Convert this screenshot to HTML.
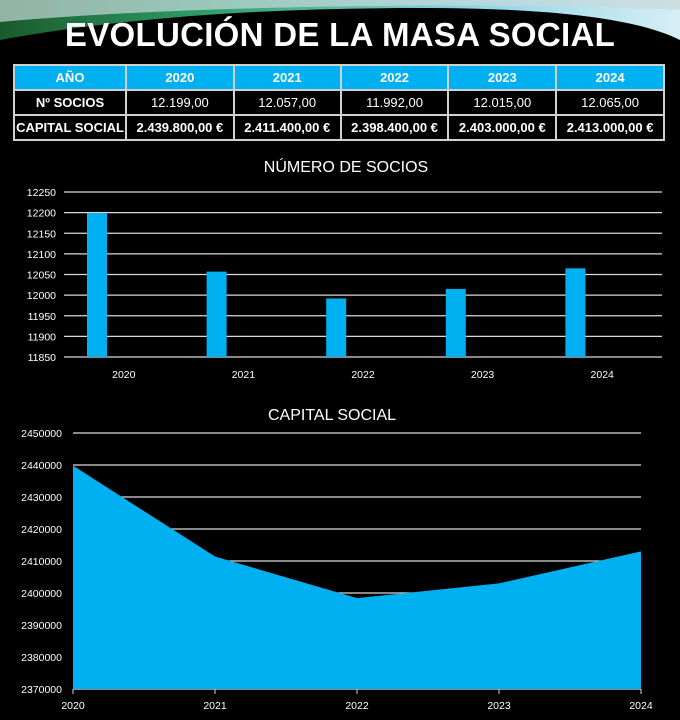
<!DOCTYPE html>
<html><head><meta charset="utf-8"><style>
body{margin:0;width:680px;height:720px;background:#000;overflow:hidden;font-family:"Liberation Sans",sans-serif;position:relative}
.title{position:absolute;left:0;width:680px;top:16px;text-align:center;color:#fff;font-weight:bold;font-size:33px;letter-spacing:0.3px}
table{position:absolute;left:13px;top:64px;border-collapse:collapse;width:652px;font-size:13px}
td{border:2px solid #d0d0d0;text-align:center;color:#fff;height:23px;padding:0}
tr.h td{background:#00b0f0;font-weight:bold}
.b td{font-weight:bold}
svg{position:absolute;left:0;top:0}
</style></head><body>
<svg width="680" height="720">
<defs>
<linearGradient id="sw" x1="0" x2="1" y1="0" y2="0"><stop offset="0" stop-color="#1a5a2a"/><stop offset="0.3" stop-color="#2e9e6a"/><stop offset="0.7" stop-color="#8fd6e6"/><stop offset="1" stop-color="#d8eef4"/></linearGradient>
</defs>
<path d="M0 0 H680 V40 C640 20 560 8 420 8 C260 8 120 18 0 40 Z" fill="url(#sw)"/>
<path d="M0 0 H680 V10 C500 2 200 4 0 22 Z" fill="#c8d8dc" opacity="0.7"/>
<g id="bars"></g>
<g id="area"></g>
</svg>
<div class="title">EVOLUCIÓN DE LA MASA SOCIAL</div>
<table>
<tr class="h"><td style="width:110px">AÑO</td><td>2020</td><td>2021</td><td>2022</td><td>2023</td><td>2024</td></tr>
<tr><td style="font-weight:bold">Nº SOCIOS</td><td>12.199,00</td><td>12.057,00</td><td>11.992,00</td><td>12.015,00</td><td>12.065,00</td></tr>
<tr class="b"><td>CAPITAL SOCIAL</td><td>2.439.800,00 €</td><td>2.411.400,00 €</td><td>2.398.400,00 €</td><td>2.403.000,00 €</td><td>2.413.000,00 €</td></tr>
</table>
<script>
const years=["2020","2021","2022","2023","2024"];
const socios=[12199,12057,11992,12015,12065];
const socioTicks=[11850,11900,11950,12000,12050,12100,12150,12200,12250];
const capital=[2439800,2411400,2398400,2403000,2413000];
const capTicks=[2370000,2380000,2390000,2400000,2410000,2420000,2430000,2440000,2450000];
const NS="http://www.w3.org/2000/svg";
function mk(p,t,a){const e=document.createElementNS(NS,t);for(const k in a)e.setAttribute(k,a[k]);p.appendChild(e);return e;}
// bar chart
const g=document.getElementById('bars');
const bx0=64,bx1=662,by0=357,by1=192;
const bmin=11850,bmax=12250;
const by=v=>by0-(v-bmin)/(bmax-bmin)*(by0-by1);
const cw=(bx1-bx0)/years.length;
let t=mk(g,'text',{x:346,y:172,fill:'#fff','font-size':16,'text-anchor':'middle'});t.textContent='NÚMERO DE SOCIOS';


socioTicks.forEach(v=>{
 const l=mk(g,'line',{x1:bx0,x2:bx1,y1:by(v),y2:by(v),stroke:'#d9d9d9','stroke-width':1.3});
 
 
 const tx=mk(g,'text',{x:56,y:by(v)+4,fill:'#fff','font-size':10.5,'text-anchor':'end'});tx.textContent=v;
 
 
});
socios.forEach((v,i)=>{
 const x=bx0+i*cw+23;
 const r=mk(g,'rect',{x:x,y:by(v),width:20,height:by0-by(v),fill:'#00b0f0'});
 
 
 const tx=mk(g,'text',{x:bx0+i*cw+cw/2,y:378,fill:'#fff','font-size':10.5,'text-anchor':'middle'});tx.textContent=years[i];
 
 
});
// area chart
const a=document.getElementById('area');
const ax0=73,ax1=641,ay0=689,ay1=433,amin=2370000,amax=2450000;
const ax=i=>ax0+i*(ax1-ax0)/(years.length-1);
const ay=v=>ay0-(v-amin)/(amax-amin)*(ay0-ay1);
t=mk(a,'text',{x:332,y:420,fill:'#fff','font-size':16,'text-anchor':'middle'});t.textContent='CAPITAL SOCIAL';


capTicks.forEach(v=>{
 const l=mk(a,'line',{x1:ax0,x2:ax1,y1:ay(v),y2:ay(v),stroke:'#d9d9d9','stroke-width':1.3});
 
 
 const tx=mk(a,'text',{x:62,y:ay(v)+4,fill:'#fff','font-size':10.5,'text-anchor':'end'});tx.textContent=v;
 
 
});
let d='M'+ax(0)+' '+ay0;
capital.forEach((v,i)=>{d+=' L'+ax(i)+' '+ay(v);});
d+=' L'+ax(capital.length-1)+' '+ay0+' Z';
const p=mk(a,'path',{d:d,fill:'#00b0f0'});


years.forEach((y,i)=>{
 const l=mk(a,'line',{x1:ax(i),x2:ax(i),y1:ay0,y2:ay0+5,stroke:'#d9d9d9'});
 
 
 const tx=mk(a,'text',{x:ax(i),y:709,fill:'#fff','font-size':10.5,'text-anchor':'middle'});tx.textContent=y;
 
 
});
</script>
</body></html>
